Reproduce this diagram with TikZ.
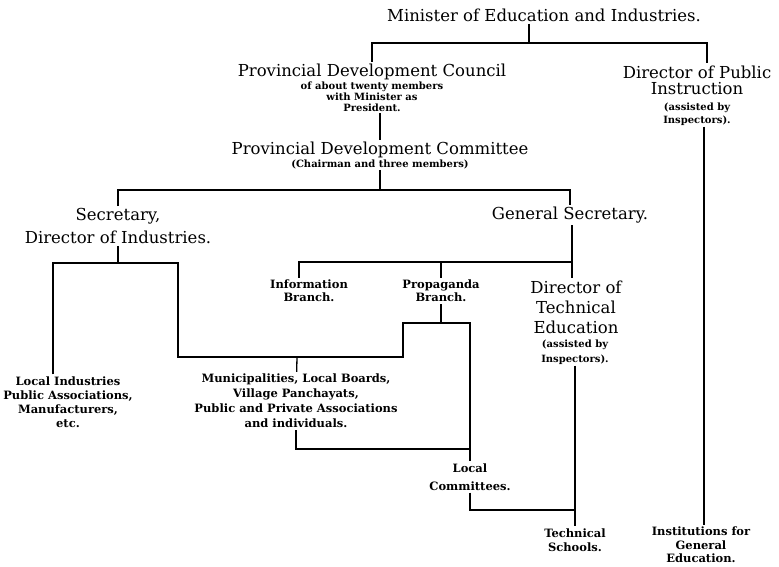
\documentclass[tikz,border=0pt]{standalone}
\usepackage{fontspec}
\setmainfont{DejaVu Serif}

\newcommand{\headfont}{\fontsize{16.5}{20}\selectfont}
\newcommand{\subfont}{\fontsize{10}{11}\selectfont\bfseries}
\newcommand{\leaffont}{\fontsize{11.5}{14}\selectfont\bfseries}

\tikzset{
    head/.style={font=\headfont, align=center, inner sep=2pt},
    sub/.style={font=\subfont, align=center, inner sep=1pt},
    leaf/.style={font=\leaffont, align=center, inner sep=2pt},
    link/.style={line width=1.3pt},
}

\begin{document}
\begin{tikzpicture}[x=1pt,y=-1pt]
    \useasboundingbox (0,0) rectangle (779,567);

    % offices
    \node[head] (minister) at (544,15) {Minister of Education and Industries.};
    \node[head] (council) at (372,72) {Provincial Development Council};
    \node[sub] (councilsub) at (372,97) {of about twenty members\\with Minister as\\President.};
    \node[head] (committee) at (380,150) {Provincial Development Committee};
    \node[sub] (committeesub) at (380,164) {(Chairman and three members)};
    \node[head, font=\fontsize{16.5}{16}\selectfont] (dpi) at (697,80) {Director of Public\\Instruction};
    \node[sub, font=\fontsize{10}{13}\selectfont\bfseries] (dpisub) at (697,114) {(assisted by\\Inspectors).};
    \node[head, font=\fontsize{16.5}{23}\selectfont] (secretary) at (118,226) {Secretary,\\Director of Industries.};
    \node[head] (gensec) at (570,215) {General Secretary.};
    \node[leaf, font=\fontsize{11.5}{13}\selectfont\bfseries] (info) at (309,291) {Information\\Branch.};
    \node[leaf, font=\fontsize{11.5}{13}\selectfont\bfseries] (propaganda) at (441,291) {Propaganda\\Branch.};
    \node[head] (dte) at (576,307) {Director of\\Technical\\Education};
    \node[sub, font=\fontsize{10}{15}\selectfont\bfseries] (dtesub) at (575,352) {(assisted by\\Inspectors).};

    % the public
    \node[leaf] (localind) at (68,402) {Local Industries\\Public Associations,\\Manufacturers,\\etc.};
    \node[leaf, font=\fontsize{11.5}{15}\selectfont\bfseries] (municip) at (296,401) {Municipalities, Local Boards,\\Village Panchayats,\\Public and Private Associations\\and individuals.};
    \node[leaf, font=\fontsize{11.5}{18}\selectfont\bfseries] (localcom) at (470,477) {Local\\Committees.};
    \node[leaf] (techschools) at (575,540) {Technical\\Schools.};
    \node[leaf, font=\fontsize{11.5}{13.5}\selectfont\bfseries] (institutions) at (701,545) {Institutions for\\General\\Education.};

    % rails
    \coordinate (railA) at (529,43);
    \coordinate (dpiDrop) at (707,43);
    \coordinate (dpiLine) at (704,130);
    \coordinate (railB) at (380,190);
    \coordinate (railC) at (572,262);
    \coordinate (infoDrop) at (299,262);
    \coordinate (secL) at (53,263);
    \coordinate (secR) at (178,263);
    \coordinate (railE) at (297,357);
    \coordinate (propL) at (403,323);
    \coordinate (propR) at (470,323);
    \coordinate (railG) at (470,449);
    \coordinate (railH) at (575,510);

    \draw[link] (minister.south -| railA) -- (railA);
    \draw[link] (council) |- (dpiDrop) -- (dpi.north -| dpiDrop);
    \draw[link] (councilsub.south -| committee) -- (committee);
    \draw[link] (committeesub) -- (railB);
    \draw[link] (secretary) |- (railB) -| (gensec);
    \draw[link] (railC |- gensec.south) -- (railC |- dte.north);
    \draw[link] (info.north -| infoDrop) -- (infoDrop) -- (railC);
    \draw[link] (propaganda) -- (propaganda |- railC);
    \draw[link] (secretary) -- (secretary |- secL);
    \draw[link] (localind.north -| secL) -- (secL) -- (secR) |- (propL |- railE) -- (propL) -- (propR) -- (localcom);
    \draw[link] (propaganda) -- (propaganda |- propL);
    \draw[link] (railE) -- (municip);
    \draw[link] (municip) |- (railG);
    \draw[link] (localcom) |- (railH);
    \draw[link] (dtesub) -- (techschools);
    \draw[link] (dpisub.south -| dpiLine) -- (institutions.north -| dpiLine);
\end{tikzpicture}
\end{document}
